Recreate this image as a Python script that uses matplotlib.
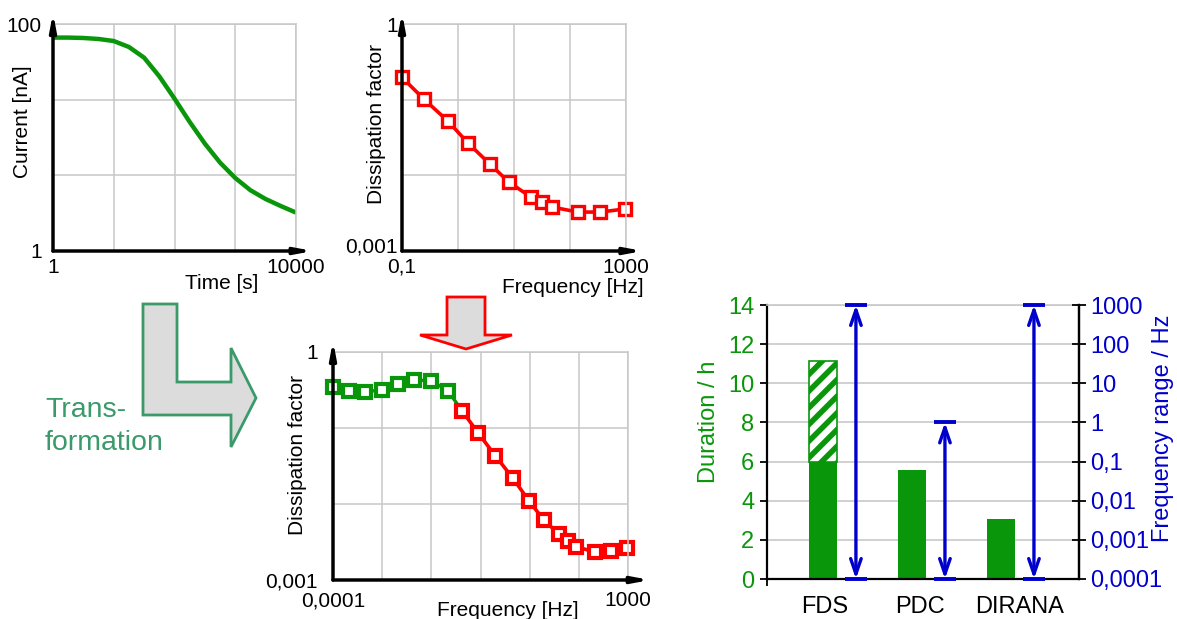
import numpy as np
import matplotlib
matplotlib.use('Agg')
import matplotlib.pyplot as plt
from matplotlib.patches import Polygon
from matplotlib.ticker import NullFormatter, NullLocator
from matplotlib.transforms import ScaledTranslation

plt.rcParams['font.family'] = ['Liberation Sans', 'DejaVu Sans']
plt.rcParams['hatch.linewidth'] = 4

# --- data ---
time_s = [1, 1.78, 3.16, 5.62, 10, 17.8, 31.6, 56.2, 100, 178, 316, 562, 1000, 1780, 3160, 5620, 10000]
current_nA = [75.9, 75.9, 75.3, 73.8, 70.8, 62.7, 50.5, 34.6, 22.0, 13.7, 8.83, 6.01, 4.40, 3.43, 2.87, 2.49, 2.18]

fds_freq = [0.1, 0.245, 0.66, 1.51, 3.7, 8.1, 20, 31.6, 47.9, 138, 347, 950]
fds_tand = [0.197, 0.102, 0.0521, 0.0267, 0.0141, 0.00815, 0.00516, 0.00444, 0.00381, 0.00327, 0.00327, 0.00359]

pdc_freq = [1e-4, 2.4e-4, 5.75e-4, 1.45e-3, 3.47e-3, 8.3e-3, 0.0214, 0.0537]
pdc_tand = [0.344, 0.309, 0.301, 0.316, 0.376, 0.429, 0.419, 0.307]
comb_freq = [0.115, 0.275, 0.708, 1.86, 4.47, 10, 23.4, 38, 58.9, 166, 398, 955]
comb_tand = [0.169, 0.0867, 0.0433, 0.0218, 0.0110, 0.00617, 0.00398, 0.00326, 0.00274, 0.00233, 0.00243, 0.00266]

methods = ['FDS', 'PDC', 'DIRANA']
duration_h = [6.0, 5.55, 3.07]
fds_extra_top = 11.15
f_low = [1e-4, 1e-4, 1e-4]
f_high = [1000, 1, 1000]

GREEN = '#0a960a'
RED = '#ff0000'
BLUE = '#0000cc'
GRID = '#c8c8c8'
TGREEN = '#3a9a6a'
FS = 15

W, H = 1177, 619
fig = plt.figure(figsize=(W / 100, H / 100), dpi=100)


def px_axes(l, t, r, b):
    return fig.add_axes([l / W, 1 - b / H, (r - l) / W, (b - t) / H])


def px(x, y):
    return (x / W, 1 - y / H)


def schematic(ax, xt, xl, yt, yl, xgrid, ygrid, ypad, xarr=1.075, yarr=1.05):
    ax.set_xscale('log')
    ax.set_yscale('log')
    ax.set_xticks(xt, xl)
    ax.set_yticks(yt, yl)
    ax.set_xticks(xgrid, minor=True)
    ax.set_yticks(ygrid, minor=True)
    ax.xaxis.set_minor_formatter(NullFormatter())
    ax.yaxis.set_minor_formatter(NullFormatter())
    ax.tick_params(which='both', length=0, labelsize=FS)
    ax.tick_params(axis='x', pad=5)
    ax.tick_params(axis='y', pad=ypad)
    ax.grid(which='both', color=GRID, lw=1.1)
    for s in ['left', 'bottom']:
        ax.spines[s].set_visible(False)
    for s in ['top', 'right']:
        ax.spines[s].set_color(GRID)
        ax.spines[s].set_linewidth(1.1)
    ap = dict(arrowstyle='-|>,head_width=0.15,head_length=0.8', color='black',
              lw=2.5, shrinkA=0, shrinkB=0, mutation_scale=12)
    ax.annotate('', xy=(xarr, 0), xytext=(0, 0), xycoords='axes fraction',
                arrowprops=ap, annotation_clip=False)
    ax.annotate('', xy=(0, yarr), xytext=(0, 0), xycoords='axes fraction',
                arrowprops=ap, annotation_clip=False)


def lift_bottom_label(ax, dy_px):
    lab = ax.yaxis.get_major_ticks()[0].label1
    lab.set_transform(lab.get_transform() + ScaledTranslation(0, dy_px / 100, fig.dpi_scale_trans))


# ---- panel 1: current vs time ----
ax1 = px_axes(53, 24, 296, 251)
ax1.set_xlim(1, 10000)
ax1.set_ylim(1, 100)
schematic(ax1, [1, 10000], ['1', '10000'], [1, 100], ['1', '100'],
          [10, 100, 1000], [10 ** (2 / 3), 10 ** (4 / 3)], ypad=8, xarr=1.07)
ax1.plot(time_s, current_nA, color=GREEN, lw=3.2, solid_capstyle='butt')
ax1.set_xlabel('Time [s]', fontsize=FS, va='center')
ax1.xaxis.set_label_coords(0.695, -0.141)
ax1.set_ylabel('Current [nA]', fontsize=FS, va='center')
ax1.yaxis.set_label_coords(-0.125, 0.568)

# ---- panel 2: FDS dissipation factor ----
ax2 = px_axes(402, 24, 626, 251)
ax2.set_xlim(0.1, 1000)
ax2.set_ylim(0.001, 1)
schematic(ax2, [0.1, 1000], ['0,1', '1000'], [0.001, 1], ['0,001', '1'],
          [1, 10, 100], [0.01, 0.1], ypad=3)
lift_bottom_label(ax2, 6)
ax2.plot(fds_freq, fds_tand, color=RED, lw=2.6, marker='s', ms=9,
         mfc='white', mec=RED, mew=2.4, clip_on=False)
ax2.set_xlabel('Frequency [Hz]', fontsize=FS, va='center')
ax2.xaxis.set_label_coords(0.763, -0.159)
ax2.set_ylabel('Dissipation factor', fontsize=FS, va='center')
ax2.yaxis.set_label_coords(-0.116, 0.559)

# ---- panel 3: combined ----
ax3 = px_axes(333, 352, 628, 580)
ax3.set_xlim(1e-4, 1000)
ax3.set_ylim(0.001, 1)
xg = [10 ** (-4 + k * 7 / 6) for k in range(1, 6)]
schematic(ax3, [1e-4, 1000], ['0,0001', '1000'], [0.001, 1], ['0,001', '1'],
          xg, [0.01, 0.1], ypad=11)
ax3.tick_params(axis='x', pad=8)
ax3.plot(pdc_freq + comb_freq[:1], pdc_tand + comb_tand[:1], color=GREEN, lw=2.4,
         marker='s', ms=8, mfc='white', mec=GREEN, mew=3, markevery=list(range(len(pdc_freq))),
         clip_on=False)
ax3.plot(comb_freq, comb_tand, color=RED, lw=2.6, marker='s', ms=8,
         mfc='white', mec=RED, mew=3, clip_on=False)
ax3.set_xlabel('Frequency [Hz]', fontsize=FS, va='center')
ax3.xaxis.set_label_coords(0.593, -0.132)
ax3.set_ylabel('Dissipation factor', fontsize=FS, va='center')
ax3.yaxis.set_label_coords(-0.122, 0.548)

# ---- block arrows and text ----
down = [(447, 297), (485, 297), (485, 335), (512, 335), (466, 349), (420, 335), (447, 335)]
fig.patches.append(Polygon([px(*p) for p in down], closed=True, transform=fig.transFigure,
                           facecolor='#dcdcdc', edgecolor=RED, lw=2))
ell = [(143, 304), (177, 304), (177, 382), (231, 382), (231, 348), (256, 398),
       (231, 447), (231, 415), (143, 415)]
fig.patches.append(Polygon([px(*p) for p in ell], closed=True, transform=fig.transFigure,
                           facecolor='#dcdcdc', edgecolor=TGREEN, lw=2))
fig.text(*px(45, 410), 'Trans-', color=TGREEN, fontsize=20.5, va='center', ha='left')
fig.text(*px(45, 443), 'formation', color=TGREEN, fontsize=20.5, va='center', ha='left')

# ---- panel 4: bar chart with frequency ranges ----
FS4 = 17
ax4 = px_axes(767, 305, 1079, 579)
bar_x = np.arange(len(methods))
arrow_dx = 0.37
ax4.set_xlim(-0.629, 2.876)
ax4.set_ylim(0, 14)
ax4.set_axisbelow(True)
ax4.grid(axis='y', color=GRID, lw=1.2)
ax4.bar(bar_x, duration_h, width=0.315, color=GREEN, zorder=2)
ax4.bar(bar_x[0], fds_extra_top - duration_h[0], bottom=duration_h[0], width=0.315,
        facecolor='white', edgecolor=GREEN, hatch='//', lw=1.2, zorder=2)
ax4.set_yticks(np.arange(0, 15, 2))
ax4.tick_params(axis='y', colors='black', labelcolor=GREEN, labelsize=FS4,
                length=5, width=1.3, pad=4)
ax4.set_xticks(bar_x + np.array([0.02, 0.09, 0.21]), methods)
ax4.tick_params(axis='x', length=0, labelsize=FS4, pad=12)
ax4.set_xticks([-0.629], minor=True)
ax4.tick_params(axis='x', which='minor', length=5, width=1.3)
ax4.spines['top'].set_color(GRID)
ax4.spines['top'].set_linewidth(1.2)
for s in ['left', 'bottom', 'right']:
    ax4.spines[s].set_linewidth(1.6)
ax4.set_ylabel('Duration / h', color=GREEN, fontsize=FS4, va='center')
ax4.yaxis.set_label_coords(-0.186, 0.573)

ax5 = ax4.twinx()
ax5.set_yscale('log')
ax5.set_ylim(1e-4, 1000)
ax5.set_yticks([1e-4, 1e-3, 1e-2, 0.1, 1, 10, 100, 1000],
               ['0,0001', '0,001', '0,01', '0,1', '1', '10', '100', '1000'])
ax5.yaxis.set_minor_locator(NullLocator())
ax5.tick_params(axis='y', colors='black', labelcolor=BLUE, labelsize=FS4,
                direction='inout', length=10, width=1.3, pad=3)
for s in ['top', 'left', 'bottom']:
    ax5.spines[s].set_visible(False)
ax5.spines['right'].set_linewidth(1.6)
ax5.set_ylabel('Frequency range / Hz', color=BLUE, fontsize=FS4, va='center')
ax5.yaxis.set_label_coords(1.268, 0.551)
for xi, lo, hi in zip(bar_x + arrow_dx, f_low, f_high):
    ax5.annotate('', xy=(xi, hi), xytext=(xi, lo),
                 arrowprops=dict(arrowstyle='<->,head_length=1.1,head_width=0.38',
                                 color=BLUE, lw=2.4, shrinkA=0, shrinkB=0,
                                 mutation_scale=10),
                 annotation_clip=False)
    ax5.hlines([lo, hi], xi - 0.125, xi + 0.125, color=BLUE, lw=2.8, clip_on=False, zorder=5)

fig.savefig('out.png', dpi=100)
